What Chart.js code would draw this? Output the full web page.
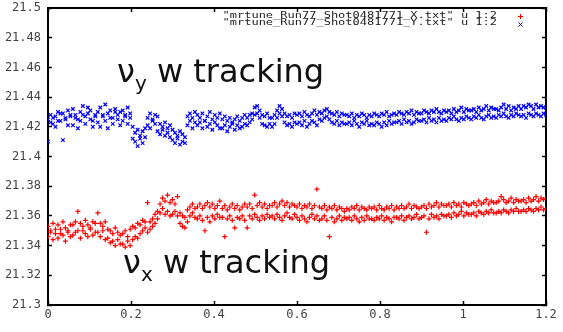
<!DOCTYPE html>
<html>
<head>
<meta charset="utf-8">
<script src="https://cdn.jsdelivr.net/npm/chart.js@4"></script>
<style>
  html, body { margin:0; padding:0; background:#fff; }
</style>
</head>
<body>
<canvas id="c" width="563" height="332"></canvas>
<script>
const xTickValues = [0, 0.2, 0.4, 0.6, 0.8, 1, 1.2];
const yTickValues = [21.3, 21.32, 21.34, 21.36, 21.38, 21.4, 21.42, 21.44, 21.46, 21.48, 21.5];
const legendLabels = ['"mrtune_Run77_Shot0481771_X.txt" u 1:2', '"mrtune_Run77_Shot0481771_Y.txt" u 1:2'];
const annotations = [{ sym: 'ν', sub: 'y', rest: ' w tracking' }, { sym: 'ν', sub: 'x', rest: ' w tracking' }];

const turns = [
0,0.006,0.012,0.018,0.024,0.03,0.036,0.042,0.048,0.054,
0.06,0.066,0.072,0.078,0.084,0.09,0.096,0.102,0.108,0.114,
0.12,0.126,0.132,0.138,0.144,0.15,0.156,0.162,0.168,0.174,
0.18,0.186,0.192,0.198,0.204,0.21,0.216,0.222,0.228,0.234,
0.24,0.246,0.252,0.258,0.264,0.27,0.276,0.282,0.288,0.294,
0.3,0.306,0.312,0.318,0.324,0.33,0.336,0.342,0.348,0.354,
0.36,0.366,0.372,0.378,0.384,0.39,0.396,0.402,0.408,0.414,
0.42,0.426,0.432,0.438,0.444,0.45,0.456,0.462,0.468,0.474,
0.48,0.486,0.492,0.498,0.504,0.51,0.516,0.522,0.528,0.534,
0.54,0.546,0.552,0.558,0.564,0.57,0.576,0.582,0.588,0.594,
0.6,0.606,0.612,0.618,0.624,0.63,0.636,0.642,0.648,0.654,
0.66,0.666,0.672,0.678,0.684,0.69,0.696,0.702,0.708,0.714,
0.72,0.726,0.732,0.738,0.744,0.75,0.756,0.762,0.768,0.774,
0.78,0.786,0.792,0.798,0.804,0.81,0.816,0.822,0.828,0.834,
0.84,0.846,0.852,0.858,0.864,0.87,0.876,0.882,0.888,0.894,
0.9,0.906,0.912,0.918,0.924,0.93,0.936,0.942,0.948,0.954,
0.96,0.966,0.972,0.978,0.984,0.99,0.996,1.002,1.008,1.014,
1.02,1.026,1.032,1.038,1.044,1.05,1.056,1.062,1.068,1.074,
1.08,1.086,1.092,1.098,1.104,1.11,1.116,1.122,1.128,1.134,
1.14,1.146,1.152,1.158,1.164,1.17,1.176,1.182,1.188,1.194,
1.2];

// nu_y (blue), two samples per turn position
const nuYa = [
21.425,21.428,21.422,21.427,21.43,21.424,21.429,21.426,21.431,21.427,
21.432,21.428,21.425,21.43,21.434,21.427,21.429,21.431,21.424,21.428,
21.43,21.433,21.427,21.435,21.429,21.431,21.426,21.432,21.428,21.43,
21.431,21.427,21.433,21.429,21.42,21.416,21.418,21.414,21.417,21.419,
21.426,21.429,21.424,21.428,21.427,21.422,21.42,21.423,21.419,21.421,
21.418,21.416,21.414,21.417,21.415,21.413,21.427,21.429,21.426,21.43,
21.428,21.426,21.429,21.424,21.427,21.43,21.425,21.428,21.426,21.429,
21.425,21.427,21.424,21.426,21.423,21.425,21.427,21.424,21.426,21.428,
21.426,21.428,21.429,21.433,21.434,21.431,21.428,21.427,21.429,21.426,
21.426,21.428,21.431,21.434,21.432,21.429,21.427,21.428,21.426,21.429,
21.428,21.429,21.427,21.43,21.428,21.427,21.429,21.431,21.428,21.43,
21.429,21.431,21.432,21.43,21.429,21.428,21.43,21.427,21.429,21.428,
21.428,21.427,21.429,21.426,21.428,21.427,21.429,21.428,21.426,21.428,
21.427,21.429,21.428,21.427,21.429,21.428,21.43,21.427,21.428,21.429,
21.428,21.43,21.429,21.428,21.43,21.429,21.431,21.428,21.43,21.429,
21.429,21.431,21.43,21.429,21.431,21.43,21.432,21.43,21.429,21.431,
21.43,21.431,21.429,21.432,21.43,21.431,21.433,21.43,21.432,21.431,
21.431,21.432,21.43,21.433,21.431,21.432,21.434,21.431,21.433,21.432,
21.432,21.431,21.433,21.435,21.432,21.434,21.431,21.433,21.432,21.434,
21.432,21.434,21.433,21.435,21.434,21.432,21.435,21.433,21.434,21.433,
21.433];
const nuYb = [
21.41,21.423,21.426,21.42,21.424,21.429,21.411,21.425,21.421,21.428,
21.421,21.426,21.419,21.424,21.428,21.422,21.433,21.425,21.42,21.427,
21.423,21.42,21.428,21.424,21.419,21.426,21.422,21.43,21.425,21.421,
21.424,21.428,21.422,21.426,21.412,21.41,21.407,21.412,21.409,21.413,
21.421,21.419,21.425,21.422,21.417,21.415,21.418,21.414,21.416,21.413,
21.411,21.409,21.412,21.408,21.41,21.409,21.421,21.424,21.419,21.423,
21.421,21.423,21.419,21.424,21.42,21.422,21.418,21.423,21.421,21.419,
21.419,21.421,21.417,21.42,21.422,21.418,21.421,21.419,21.42,21.422,
21.421,21.423,21.425,21.428,21.429,21.426,21.422,21.421,21.42,21.422,
21.42,21.422,21.426,21.429,21.427,21.423,21.421,21.422,21.42,21.423,
21.422,21.423,21.421,21.424,21.42,21.422,21.424,21.423,21.421,21.425,
21.424,21.426,21.427,21.425,21.423,21.422,21.424,21.421,21.423,21.422,
21.422,21.423,21.421,21.424,21.422,21.42,21.423,21.422,21.424,21.421,
21.422,21.421,21.423,21.422,21.42,21.423,21.421,21.424,21.422,21.423,
21.423,21.424,21.422,21.425,21.423,21.424,21.422,21.423,21.425,21.424,
21.424,21.425,21.423,21.426,21.424,21.425,21.423,21.426,21.424,21.425,
21.424,21.426,21.425,21.427,21.425,21.424,21.426,21.425,21.427,21.426,
21.425,21.427,21.426,21.428,21.426,21.425,21.427,21.428,21.426,21.427,
21.426,21.428,21.427,21.429,21.427,21.426,21.428,21.427,21.429,21.428,
21.427,21.428,21.426,21.429,21.428,21.427,21.429,21.428,21.427,21.429,
21.428];

// nu_x (red), two samples per turn position
const nuXa = [
21.353,21.349,21.355,21.351,21.354,21.348,21.356,21.352,21.35,21.354,
21.354,21.356,21.35,21.355,21.353,21.357,21.354,21.352,21.356,21.355,
21.362,21.355,21.353,21.356,21.351,21.35,21.348,21.352,21.349,21.347,
21.348,21.35,21.346,21.351,21.353,21.352,21.355,21.354,21.357,21.356,
21.369,21.356,21.358,21.361,21.363,21.368,21.372,21.37,21.374,21.369,
21.371,21.368,21.373,21.362,21.36,21.359,21.364,21.366,21.368,21.365,
21.366,21.368,21.365,21.367,21.369,21.366,21.368,21.365,21.367,21.37,
21.365,21.367,21.364,21.366,21.368,21.365,21.367,21.364,21.366,21.368,
21.366,21.368,21.365,21.374,21.367,21.369,21.366,21.368,21.365,21.367,
21.367,21.369,21.366,21.368,21.37,21.367,21.369,21.366,21.368,21.367,
21.366,21.368,21.365,21.367,21.366,21.368,21.365,21.367,21.378,21.366,
21.365,21.367,21.364,21.366,21.365,21.367,21.364,21.366,21.365,21.363,
21.365,21.364,21.366,21.365,21.367,21.364,21.366,21.365,21.364,21.366,
21.365,21.366,21.364,21.367,21.365,21.364,21.366,21.365,21.367,21.364,
21.366,21.365,21.367,21.365,21.366,21.368,21.365,21.367,21.366,21.365,
21.366,21.367,21.365,21.368,21.366,21.367,21.369,21.366,21.368,21.367,
21.367,21.368,21.366,21.369,21.367,21.368,21.366,21.369,21.368,21.367,
21.368,21.369,21.367,21.37,21.368,21.369,21.371,21.368,21.37,21.369,
21.369,21.37,21.373,21.371,21.369,21.37,21.372,21.369,21.371,21.37,
21.37,21.371,21.369,21.372,21.37,21.371,21.373,21.37,21.372,21.371,
21.372];
const nuXb = [
21.346,21.35,21.344,21.348,21.345,21.351,21.347,21.343,21.349,21.346,
21.347,21.349,21.363,21.345,21.35,21.348,21.346,21.351,21.347,21.349,
21.349,21.346,21.35,21.344,21.345,21.342,21.343,21.34,21.344,21.341,
21.341,21.339,21.343,21.34,21.344,21.346,21.345,21.348,21.35,21.352,
21.349,21.351,21.353,21.355,21.358,21.362,21.365,21.361,21.363,21.36,
21.361,21.363,21.36,21.355,21.353,21.352,21.356,21.36,21.362,21.359,
21.358,21.36,21.357,21.35,21.359,21.356,21.36,21.358,21.361,21.359,
21.359,21.346,21.358,21.36,21.357,21.352,21.359,21.358,21.36,21.357,
21.352,21.36,21.358,21.361,21.359,21.357,21.36,21.358,21.361,21.359,
21.36,21.358,21.361,21.359,21.357,21.36,21.362,21.359,21.358,21.361,
21.359,21.357,21.36,21.358,21.356,21.359,21.361,21.358,21.36,21.357,
21.358,21.36,21.357,21.346,21.359,21.356,21.358,21.36,21.357,21.359,
21.358,21.359,21.357,21.36,21.358,21.356,21.359,21.357,21.36,21.358,
21.358,21.357,21.359,21.358,21.36,21.357,21.359,21.358,21.356,21.359,
21.359,21.358,21.36,21.357,21.359,21.36,21.358,21.359,21.361,21.358,
21.359,21.36,21.349,21.358,21.361,21.359,21.36,21.358,21.361,21.36,
21.36,21.361,21.359,21.362,21.36,21.361,21.363,21.36,21.362,21.361,
21.361,21.362,21.36,21.363,21.362,21.361,21.363,21.362,21.364,21.362,
21.362,21.363,21.362,21.364,21.363,21.362,21.364,21.363,21.365,21.363,
21.363,21.364,21.363,21.365,21.364,21.363,21.365,21.364,21.366,21.364,
21.365];

function pairs(xs, a, b) {
  const out = [];
  xs.forEach((x, i) => { out.push({x: x, y: a[i]}); });
  xs.forEach((x, i) => { out.push({x: x, y: b[i]}); });
  return out;
}

// Text overlays (annotation labels and gnuplot-style key) drawn on the chart canvas
const overlayText = {
  id: 'overlayText',
  afterDraw(chart) {
    const ctx = chart.ctx;
    ctx.save();
    ctx.textBaseline = 'alphabetic';
    ctx.textAlign = 'left';
    ctx.fillStyle = '#111';
    const anchors = [[117, 82], [123, 273]];
    annotations.forEach((t, i) => {
      let x = anchors[i][0];
      const base = anchors[i][1];
      ctx.font = "32px 'DejaVu Sans', sans-serif";
      ctx.fillText(t.sym, x, base);
      x += ctx.measureText(t.sym).width;
      ctx.font = "20px 'DejaVu Sans', sans-serif";
      ctx.fillText(t.sub, x, base + 8);
      x += ctx.measureText(t.sub).width;
      ctx.font = "32px 'DejaVu Sans', sans-serif";
      ctx.fillText(t.rest, x, base);
    });
    // key
    ctx.font = "9px 'DejaVu Sans Mono', monospace";
    ctx.fillStyle = '#222';
    ctx.textAlign = 'right';
    [18, 25].forEach((yb, i) => {
      ctx.save();
      ctx.translate(497, yb);
      ctx.scale(1.333, 1);
      ctx.fillText(legendLabels[i], 0, 0);
      ctx.restore();
    });
    ctx.lineWidth = 1;
    ctx.strokeStyle = '#ff0000';
    ctx.beginPath();
    ctx.moveTo(518, 16.5); ctx.lineTo(523, 16.5);
    ctx.moveTo(520.5, 14); ctx.lineTo(520.5, 19);
    ctx.stroke();
    ctx.strokeStyle = '#0000ff';
    ctx.beginPath();
    ctx.moveTo(518.5, 22.5); ctx.lineTo(522.5, 26.5);
    ctx.moveTo(522.5, 22.5); ctx.lineTo(518.5, 26.5);
    ctx.stroke();
    ctx.restore();
  }
};

const tickFont = { family: "'DejaVu Sans Mono', monospace", size: 12 };
const fmt = v => String(+Number(v).toFixed(2));
const frameGrid = { display: true, drawOnChartArea: false, drawTicks: true, tickLength: -4, tickColor: '#000', tickWidth: 1.5 };
const frameBorder = { display: true, color: '#000', width: 2 };

new Chart(document.getElementById('c'), {
  type: 'scatter',
  data: {
    datasets: [
      { label: 'X', data: pairs(turns, nuXa, nuXb), pointStyle: 'cross', pointRadius: 2.5, borderWidth: 1.2, borderColor: '#ff0000', backgroundColor: '#ff0000' },
      { label: 'Y', data: pairs(turns, nuYa, nuYb), pointStyle: 'crossRot', pointRadius: 2.5, borderWidth: 1.2, borderColor: '#0000ff', backgroundColor: '#0000ff' }
    ]
  },
  options: {
    responsive: false,
    animation: false,
    devicePixelRatio: 1,
    layout: { padding: { top: 8, right: 17, left: 0, bottom: 0 } },
    plugins: { legend: { display: false }, tooltip: { enabled: false } },
    scales: {
      x: {
        type: 'linear', position: 'bottom', min: 0, max: 1.2,
        afterBuildTicks: s => { s.ticks = xTickValues.map(v => ({value: v})); },
        afterFit: s => { s.height = 27; s.paddingLeft = 0; s.paddingRight = 0; },
        grid: frameGrid, border: frameBorder,
        ticks: { padding: 7, color: '#444', font: tickFont, callback: fmt }
      },
      x2: {
        type: 'linear', axis: 'x', position: 'top', min: 0, max: 1.2,
        afterBuildTicks: s => { s.ticks = xTickValues.map(v => ({value: v})); },
        afterFit: s => { s.height = 0; s.paddingLeft = 0; s.paddingRight = 0; },
        grid: frameGrid, border: frameBorder,
        ticks: { display: false }
      },
      y: {
        type: 'linear', position: 'left', min: 21.3, max: 21.5,
        afterBuildTicks: s => { s.ticks = yTickValues.map(v => ({value: v})); },
        afterFit: s => { s.width = 48; s.paddingTop = 0; s.paddingBottom = 0; },
        grid: frameGrid, border: frameBorder,
        ticks: { padding: 11, color: '#444', font: tickFont, callback: fmt }
      },
      y2: {
        type: 'linear', axis: 'y', position: 'right', min: 21.3, max: 21.5,
        afterBuildTicks: s => { s.ticks = yTickValues.map(v => ({value: v})); },
        afterFit: s => { s.width = 0; s.paddingTop = 0; s.paddingBottom = 0; },
        grid: frameGrid, border: frameBorder,
        ticks: { display: false }
      }
    }
  },
  plugins: [overlayText]
});
</script>
</body>
</html>
